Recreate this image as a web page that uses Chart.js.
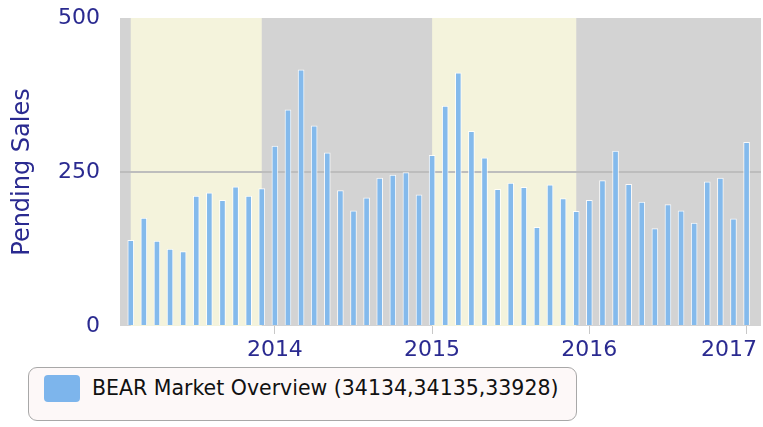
<!DOCTYPE html>
<html>
<head>
<meta charset="utf-8">
<script src="https://cdn.jsdelivr.net/npm/chart.js@4.4.1/dist/chart.umd.min.js"></script>
<style>
  html, body { margin: 0; padding: 0; background: #fff; }
  #wrap { position: relative; width: 763px; height: 427px; font-family: "DejaVu Sans", sans-serif; }
  #chartBox { position: absolute; left: 0; top: 0; width: 763px; height: 362px; }
  #legend {
    position: absolute; left: 28px; top: 367px; width: 549px; height: 54px;
    box-sizing: border-box; border: 1.5px solid #a8a8a8; border-radius: 9px;
    background: #fdf8f8;
  }
  #legend .swatch {
    position: absolute; left: 15px; top: 7px; width: 36px; height: 27px;
    border-radius: 4px; background: #7db5ec;
  }
  #legend .label {
    position: absolute; left: 63px; top: 7px; font-size: 20.5px; color: #111;
    white-space: nowrap; line-height: 27px;
  }
</style>
</head>
<body>
<div id="wrap">
  <div id="chartBox"><canvas id="salesChart"></canvas></div>
  <div id="legend"><div class="swatch"></div><div class="label" id="legendLabel"></div></div>
</div>
<script>
// months shown on the chart (Feb 2013 .. Jan 2017)
const months = [
  '2013-02','2013-03','2013-04','2013-05','2013-06','2013-07','2013-08','2013-09','2013-10','2013-11','2013-12',
  '2014-01','2014-02','2014-03','2014-04','2014-05','2014-06','2014-07','2014-08','2014-09','2014-10','2014-11','2014-12',
  '2015-01','2015-02','2015-03','2015-04','2015-05','2015-06','2015-07','2015-08','2015-09','2015-10','2015-11','2015-12',
  '2016-01','2016-02','2016-03','2016-04','2016-05','2016-06','2016-07','2016-08','2016-09','2016-10','2016-11','2016-12',
  '2017-01'
];

const pendingSales = [
  139, 175, 138, 125, 121, 211, 216, 204, 226, 211, 223,
  292, 351, 416, 325, 281, 220, 187, 208, 240, 245, 249, 213,
  277, 357, 411, 316, 273, 222, 232, 225, 160, 229, 207, 186,
  204, 236, 284, 230, 201, 158, 197, 187, 167, 234, 240, 174,
  298
];

const yearLabels = ['2014', '2015', '2016', '2017'];
const yTicks = [0, 250, 500];
const shadedYears = ['2013', '2015'];
const seriesName = 'BEAR Market Overview (34134,34135,33928)';

const navy = '#2a2a90';
const tickFont = { family: 'DejaVu Sans', size: 22 };

document.getElementById('legendLabel').textContent = seriesName;

// tick positions = the January bar of each labelled year
const yearTickIdx = yearLabels.map(y => months.indexOf(y + '-01'));

// alternating year background: gray plot with pale yellow bands
const bandPlugin = {
  id: 'yearBands',
  beforeDraw(chart) {
    const { ctx, chartArea: a, scales: { x } } = chart;
    ctx.save();
    ctx.fillStyle = '#d3d3d3';
    ctx.fillRect(a.left, a.top, a.right - a.left, a.bottom - a.top);
    ctx.fillStyle = '#f4f3dc';
    shadedYears.forEach(yr => {
      const idx = months.map((m, i) => m.startsWith(yr) ? i : -1).filter(i => i >= 0);
      const x0 = x.getPixelForValue(idx[0]);
      const x1 = x.getPixelForValue(idx[idx.length - 1]);
      ctx.fillRect(x0, a.top, x1 - x0, a.bottom - a.top);
    });
    ctx.restore();
  }
};

new Chart(document.getElementById('salesChart'), {
  type: 'bar',
  data: {
    datasets: [{
      label: seriesName,
      data: pendingSales.map((v, i) => ({ x: i, y: v })),
      backgroundColor: '#84baec',
      borderColor: 'rgba(255,255,255,0.85)',
      borderWidth: 1,
      borderSkipped: 'start',
      barThickness: 6
    }]
  },
  options: {
    responsive: true,
    maintainAspectRatio: false,
    animation: false,
    layout: { padding: { top: 18, right: 2, left: 0, bottom: 0 } },
    plugins: {
      legend: { display: false },
      tooltip: { enabled: false }
    },
    scales: {
      x: {
        type: 'linear',
        min: -0.82,
        max: 48.1,
        offset: false,
        afterBuildTicks: axis => { axis.ticks = yearTickIdx.map(v => ({ value: v })); },
        afterFit: axis => { axis.height = 36; axis.paddingLeft = 0; axis.paddingRight = 0; },
        ticks: {
          autoSkip: false,
          maxRotation: 0,
          padding: 3,
          color: navy,
          font: tickFont,
          // the last year label is pulled left so it stays inside the canvas
          callback: v => {
            const i = yearTickIdx.indexOf(v);
            return i === yearLabels.length - 1 ? yearLabels[i] + '     ' : yearLabels[i];
          }
        },
        grid: { offset: false, drawOnChartArea: false, drawTicks: true, tickLength: 8, color: '#c8c8c8', lineWidth: 1 },
        border: { display: false }
      },
      y: {
        min: 0,
        max: 500,
        afterBuildTicks: axis => { axis.ticks = yTicks.map(v => ({ value: v })); },
        afterFit: axis => { axis.width = 120; axis.paddingTop = 0; axis.paddingBottom = 0; },
        ticks: { color: navy, font: tickFont, padding: 20 },
        grid: {
          drawTicks: false,
          lineWidth: 2,
          color: c => c.tick && c.tick.value === 250 ? '#bdbdbd' : 'rgba(0,0,0,0)'
        },
        border: { display: false },
        title: {
          display: true,
          text: 'Pending Sales',
          color: navy,
          font: { family: 'DejaVu Sans', size: 24 },
          padding: { top: 8, bottom: 0 }
        }
      }
    }
  },
  plugins: [bandPlugin]
});
</script>
</body>
</html>
